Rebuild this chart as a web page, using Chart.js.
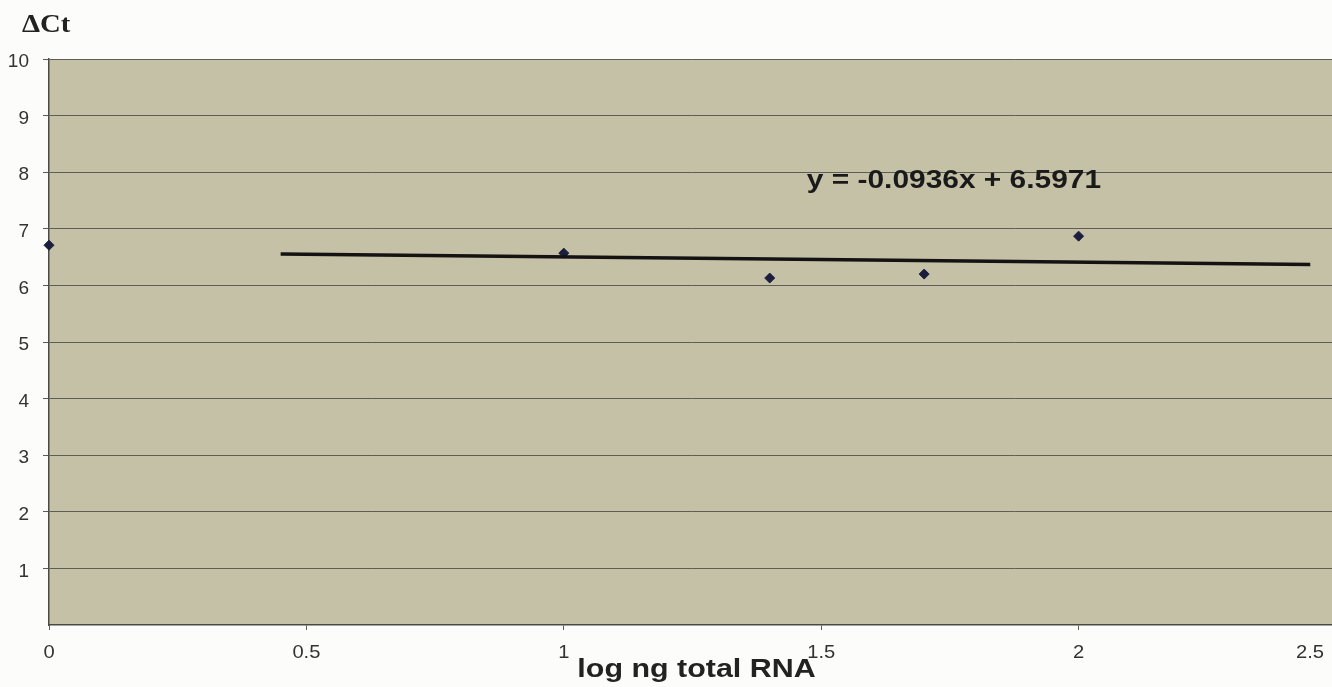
<!DOCTYPE html>
<html>
<head>
<meta charset="utf-8">
<title>ΔCt vs log ng total RNA</title>
<script src="https://cdn.jsdelivr.net/npm/chart.js@4.4.0/dist/chart.umd.min.js"></script>
<style>
    html, body { margin: 0; padding: 0; background: #fcfcfa; overflow: hidden; }
    #wrap { width: 1342px; height: 687px; }
</style>
</head>
<body>
<div id="wrap"><canvas id="ctChart"></canvas></div>
<script>
// Data
const logRna = [0, 1, 1.4, 1.7, 2];
const deltaCt = [6.71, 6.57, 6.13, 6.20, 6.87];
const trendX = [0.45, 2.45];
const trendY = [6.555, 6.368];
const xTicks = [0, 0.5, 1, 1.5, 2, 2.5];
const yTicks = [1, 2, 3, 4, 5, 6, 7, 8, 9, 10];
const equation = 'y = -0.0936x + 6.5971';
const yTitle = 'ΔCt';
const xTitle = 'log ng total RNA';

const plotBg = 'rgb(197, 193, 166)';
const gridColor = '#5d5d55';
const textColor = '#333333';
const visibleWidth = 1332;
const sansFont = '"Liberation Sans", Arial, sans-serif';

// the scanned original is a bit wider than tall, so text is stretched sideways
function drawText(ctx, text, x, y, font, color, align, stretch) {
    ctx.save();
    ctx.font = font;
    ctx.fillStyle = color;
    ctx.textAlign = align;
    ctx.translate(x, y);
    ctx.scale(stretch, 1);
    ctx.fillText(text, 0, 0);
    ctx.restore();
}

const decorPlugin = {
    id: 'decor',
    beforeDraw(chart) {
        const { ctx, chartArea } = chart;
        ctx.save();
        ctx.fillStyle = plotBg;
        ctx.fillRect(chartArea.left, chartArea.top, chartArea.right - chartArea.left, chartArea.bottom - chartArea.top);
        ctx.restore();
    },
    afterDraw(chart) {
        const { ctx, chartArea, scales } = chart;
        const x = scales.x, y = scales.y;
        ctx.save();
        ctx.textBaseline = 'alphabetic';

        // x tick labels (kept inside the visible window)
        xTicks.forEach(v => {
            let px = x.getPixelForValue(v);
            if (px > visibleWidth - 22) px = visibleWidth - 22;
            drawText(ctx, String(v), px, chartArea.bottom + 33, '18px ' + sansFont, textColor, 'center', 1.12);
        });

        // axis titles
        drawText(ctx, xTitle, (chartArea.left + chartArea.right) / 2 + 4, chartArea.bottom + 52,
            'bold 26px ' + sansFont, '#222', 'center', 1.17);
        drawText(ctx, yTitle, 22, 32, 'bold 25px "Liberation Serif", "Times New Roman", serif', '#222', 'left', 1.15);

        // trendline equation
        drawText(ctx, equation, x.getPixelForValue(1.472), y.getPixelForValue(7.72),
            'bold 26px ' + sansFont, '#1a1a1a', 'left', 1.15);
        ctx.restore();
    }
};

const ctx = document.getElementById('ctChart');
new Chart(ctx.getContext('2d'), {
    type: 'scatter',
    data: {
        datasets: [
            {
                label: 'ΔCt',
                data: logRna.map((v, i) => ({ x: v, y: deltaCt[i] })),
                pointStyle: 'rectRot',
                pointRadius: 5,
                backgroundColor: '#1c1e3e',
                borderColor: '#1c1e3e',
                borderWidth: 1,
                clip: false,
                order: 2
            },
            {
                label: 'Linear trend',
                data: trendX.map((v, i) => ({ x: v, y: trendY[i] })),
                showLine: true,
                pointRadius: 0,
                borderColor: '#141212',
                borderWidth: 3.5,
                order: 1
            }
        ]
    },
    options: {
        responsive: true,
        maintainAspectRatio: false,
        animation: false,
        layout: { padding: { left: 0, top: 59, right: 5, bottom: 0 } },
        scales: {
            x: {
                type: 'linear',
                min: 0,
                max: 2.5,
                afterBuildTicks: s => { s.ticks = xTicks.map(v => ({ value: v })); },
                afterFit: s => { s.height = 62; },
                ticks: { display: false },
                grid: { drawOnChartArea: false, drawTicks: true, tickLength: 5, color: gridColor },
                border: { display: true, color: '#4a4a44', width: 1.5 }
            },
            y: {
                min: 0,
                max: 10,
                afterBuildTicks: s => { s.ticks = yTicks.map(v => ({ value: v })); },
                afterFit: s => { s.width = 49; },
                ticks: {
                    color: textColor,
                    padding: 14,
                    labelOffset: 3,
                    font: { family: sansFont, size: 19 }
                },
                grid: { color: gridColor, lineWidth: 1, tickLength: 6 },
                border: { display: true, color: '#4a4a44', width: 1.5 }
            }
        },
        plugins: {
            legend: { display: false },
            tooltip: { enabled: false }
        }
    },
    plugins: [decorPlugin]
});
</script>
</body>
</html>
